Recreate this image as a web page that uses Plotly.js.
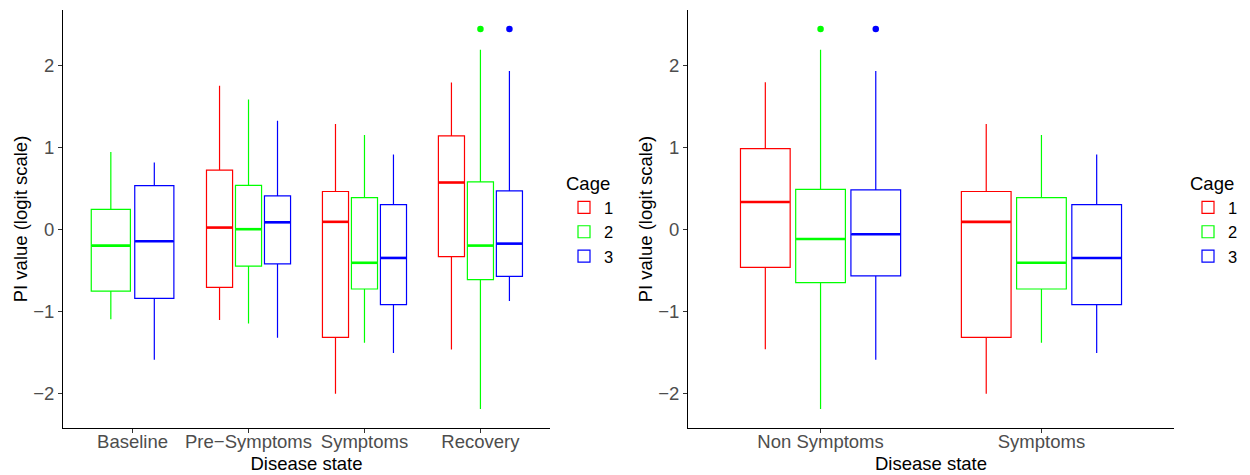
<!DOCTYPE html>
<html>
<head>
<meta charset="utf-8">
<script src="https://cdn.plot.ly/plotly-3.0.1.min.js"></script>
<style>html,body{margin:0;padding:0;background:#fff;}#chart{width:1250px;height:475px;}</style>
</head>
<body>
<div id="chart"></div>
<script>
// ---------- DATA ----------
const cagesNames = ['1', '2', '3'];
const catsLeft = ['Baseline', 'Pre\u2212Symptoms', 'Symptoms', 'Recovery'];
const catsRight = ['Non Symptoms', 'Symptoms'];

// Left panel: box statistics per cage (null = no data)
const L1_lo  = [null, -1.11, -2.01, -1.47];
const L1_q1  = [null, -0.71, -1.32, -0.335];
const L1_med = [null, 0.02, 0.09, 0.57];
const L1_q3  = [null, 0.72, 0.46, 1.14];
const L1_hi  = [null, 1.75, 1.285, 1.79];

const L2_lo  = [-1.10, -1.15, -1.385, -2.195];
const L2_q1  = [-0.755, -0.45, -0.73, -0.616];
const L2_med = [-0.20, 0.0, -0.41, -0.20];
const L2_q3  = [0.243, 0.536, 0.386, 0.577];
const L2_hi  = [0.943, 1.582, 1.151, 2.192];

const L3_lo  = [-1.593, -1.324, -1.511, -0.877];
const L3_q1  = [-0.844, -0.424, -0.921, -0.575];
const L3_med = [-0.148, 0.084, -0.351, -0.176];
const L3_q3  = [0.532, 0.406, 0.30, 0.467];
const L3_hi  = [0.813, 1.325, 0.911, 1.931];

const L1_out = [[], [], [], []];
const L2_out = [[], [], [], [2.444]];
const L3_out = [[], [], [], [2.444]];

// Right panel
const R1_lo  = [-1.467, -2.01];
const R1_q1  = [-0.465, -1.32];
const R1_med = [0.332, 0.09];
const R1_q3  = [0.983, 0.46];
const R1_hi  = [1.793, 1.285];

const R2_lo  = [-2.195, -1.385];
const R2_q1  = [-0.652, -0.73];
const R2_med = [-0.119, -0.41];
const R2_q3  = [0.487, 0.386];
const R2_hi  = [2.192, 1.151];

const R3_lo  = [-1.593, -1.511];
const R3_q1  = [-0.571, -0.921];
const R3_med = [-0.062, -0.351];
const R3_q3  = [0.479, 0.30];
const R3_hi  = [1.931, 0.911];

const R1_out = [[], []];
const R2_out = [[2.444], []];
const R3_out = [[2.444], []];

const yTicks = [-2, -1, 0, 1, 2];

// ---------- STYLE ----------
const colors = ['#FF0000', '#00FF00', '#0000FF'];
const FONT = 'Liberation Sans, Arial, Helvetica, sans-serif';
const FS = 18.5;
const W = 1250;
const leftDom = [63 / W, 550 / W];
const rightDom = [688 / W, 1174 / W];
const plotH = 475 - 10 - 47;

const leftStats = [
  {lo: L1_lo, q1: L1_q1, med: L1_med, q3: L1_q3, hi: L1_hi, out: L1_out},
  {lo: L2_lo, q1: L2_q1, med: L2_med, q3: L2_q3, hi: L2_hi, out: L2_out},
  {lo: L3_lo, q1: L3_q1, med: L3_med, q3: L3_q3, hi: L3_hi, out: L3_out}
];
const rightStats = [
  {lo: R1_lo, q1: R1_q1, med: R1_med, q3: R1_q3, hi: R1_hi, out: R1_out},
  {lo: R2_lo, q1: R2_q1, med: R2_med, q3: R2_q3, hi: R2_hi, out: R2_out},
  {lo: R3_lo, q1: R3_q1, med: R3_med, q3: R3_q3, hi: R3_hi, out: R3_out}
];

// y range like ggplot (5% expansion)
let allV = [];
[leftStats, rightStats].forEach(p => p.forEach(s => {
  allV = allV.concat(s.lo, s.hi, ...s.out);
}));
allV = allV.filter(v => v !== null && v !== undefined);
const ymin = Math.min(...allV), ymax = Math.max(...allV);
const pad = (ymax - ymin) * 0.05;
const yRange = [ymin - pad, ymax + pad];

const traces = [];
function buildPanel(cats, stats, xa, ya, legendId, domain) {
  const nC = cats.length;
  const xr = [0.4, nC + 0.6];
  const pxPerUnit = (domain[1] - domain[0]) * W / (xr[1] - xr[0]);
  const shown = [false, false, false];
  cats.forEach((cat, i) => {
    const present = [];
    stats.forEach((s, c) => { if (s.q1[i] !== null) present.push(c); });
    const n = present.length;
    const slot = 0.75 / n;
    const bw = slot * 0.9;
    present.forEach((c, k) => {
      const s = stats[c];
      const pos = (i + 1) + (k - (n - 1) / 2) * slot;
      traces.push({
        type: 'box', xaxis: xa, yaxis: ya,
        x: [pos], q1: [s.q1[i]], median: [s.med[i]], q3: [s.q3[i]],
        lowerfence: [s.lo[i]], upperfence: [s.hi[i]],
        width: bw, whiskerwidth: 0, boxpoints: false,
        line: {color: colors[c], width: 1.2},
        fillcolor: 'rgba(255,255,255,0)',
        name: cagesNames[c], legendgroup: legendId + cagesNames[c],
        legend: legendId, legendrank: c + 1, showlegend: !shown[c],
        hoverinfo: 'skip'
      });
      shown[c] = true;
      traces.push({
        type: 'scatter', mode: 'markers', xaxis: xa, yaxis: ya,
        x: [pos], y: [s.med[i]],
        marker: {symbol: 'line-ew', size: bw * pxPerUnit / 1.4 - 0.6, line: {color: colors[c], width: 2.6}},
        showlegend: false, hoverinfo: 'skip'
      });
      if (s.out[i].length) {
        traces.push({
          type: 'scatter', mode: 'markers', xaxis: xa, yaxis: ya,
          x: s.out[i].map(() => pos), y: s.out[i],
          marker: {color: colors[c], size: 6.5},
          showlegend: false, hoverinfo: 'skip'
        });
      }
    });
  });
  return xr;
}

const xrL = buildPanel(catsLeft, leftStats, 'x', 'y', 'legend', leftDom);
const xrR = buildPanel(catsRight, rightStats, 'x2', 'y2', 'legend2', rightDom);

function xAxis(dom, xr, cats, anchor) {
  return {
    domain: dom, range: xr, anchor: anchor, type: 'linear',
    tickvals: cats.map((_, i) => i + 1), ticktext: cats,
    showline: true, linecolor: '#000', linewidth: 1,
    ticks: 'outside', ticklen: 4, tickcolor: '#333', tickwidth: 1,
    ticklabelstandoff: -7,
    tickfont: {family: FONT, size: FS, color: '#4D4D4D'},
    showgrid: false, zeroline: false, fixedrange: true,
    title: {text: 'Disease state', font: {family: FONT, size: FS, color: '#000'}, standoff: 5}
  };
}
function yAxis(anchor) {
  return {
    domain: [0, 1], range: yRange, anchor: anchor,
    tickvals: yTicks,
    showline: true, linecolor: '#000', linewidth: 1,
    ticks: 'outside', ticklen: 4, tickcolor: '#333', tickwidth: 1,
    tickfont: {family: FONT, size: FS, color: '#4D4D4D'},
    showgrid: false, zeroline: false, fixedrange: true,
    title: {text: 'PI value (logit scale)', font: {family: FONT, size: FS, color: '#000'}, standoff: 0}
  };
}
function legend(x) {
  return {
    x: x, xanchor: 'left', y: (428 - 166) / plotH, yanchor: 'top',
    title: {text: 'Cage', font: {family: FONT, size: FS, color: '#000'}},
    font: {family: FONT, size: 16.5, color: '#000'},
    bgcolor: 'rgba(0,0,0,0)', tracegroupgap: 0, itemwidth: 30
  };
}

const layout = {
  width: 1250, height: 475,
  margin: {l: 0, r: 0, t: 10, b: 47},
  paper_bgcolor: '#fff', plot_bgcolor: '#fff',
  font: {family: FONT, size: FS},
  xaxis: xAxis(leftDom, xrL, catsLeft, 'y'),
  yaxis: yAxis('x'),
  xaxis2: xAxis(rightDom, xrR, catsRight, 'y2'),
  yaxis2: yAxis('x2'),
  legend: legend(564 / W),
  legend2: legend(1188 / W),
  boxmode: 'overlay',
  showlegend: true
};

Plotly.newPlot('chart', traces, layout, {staticPlot: true, displayModeBar: false});
</script>
</body>
</html>
